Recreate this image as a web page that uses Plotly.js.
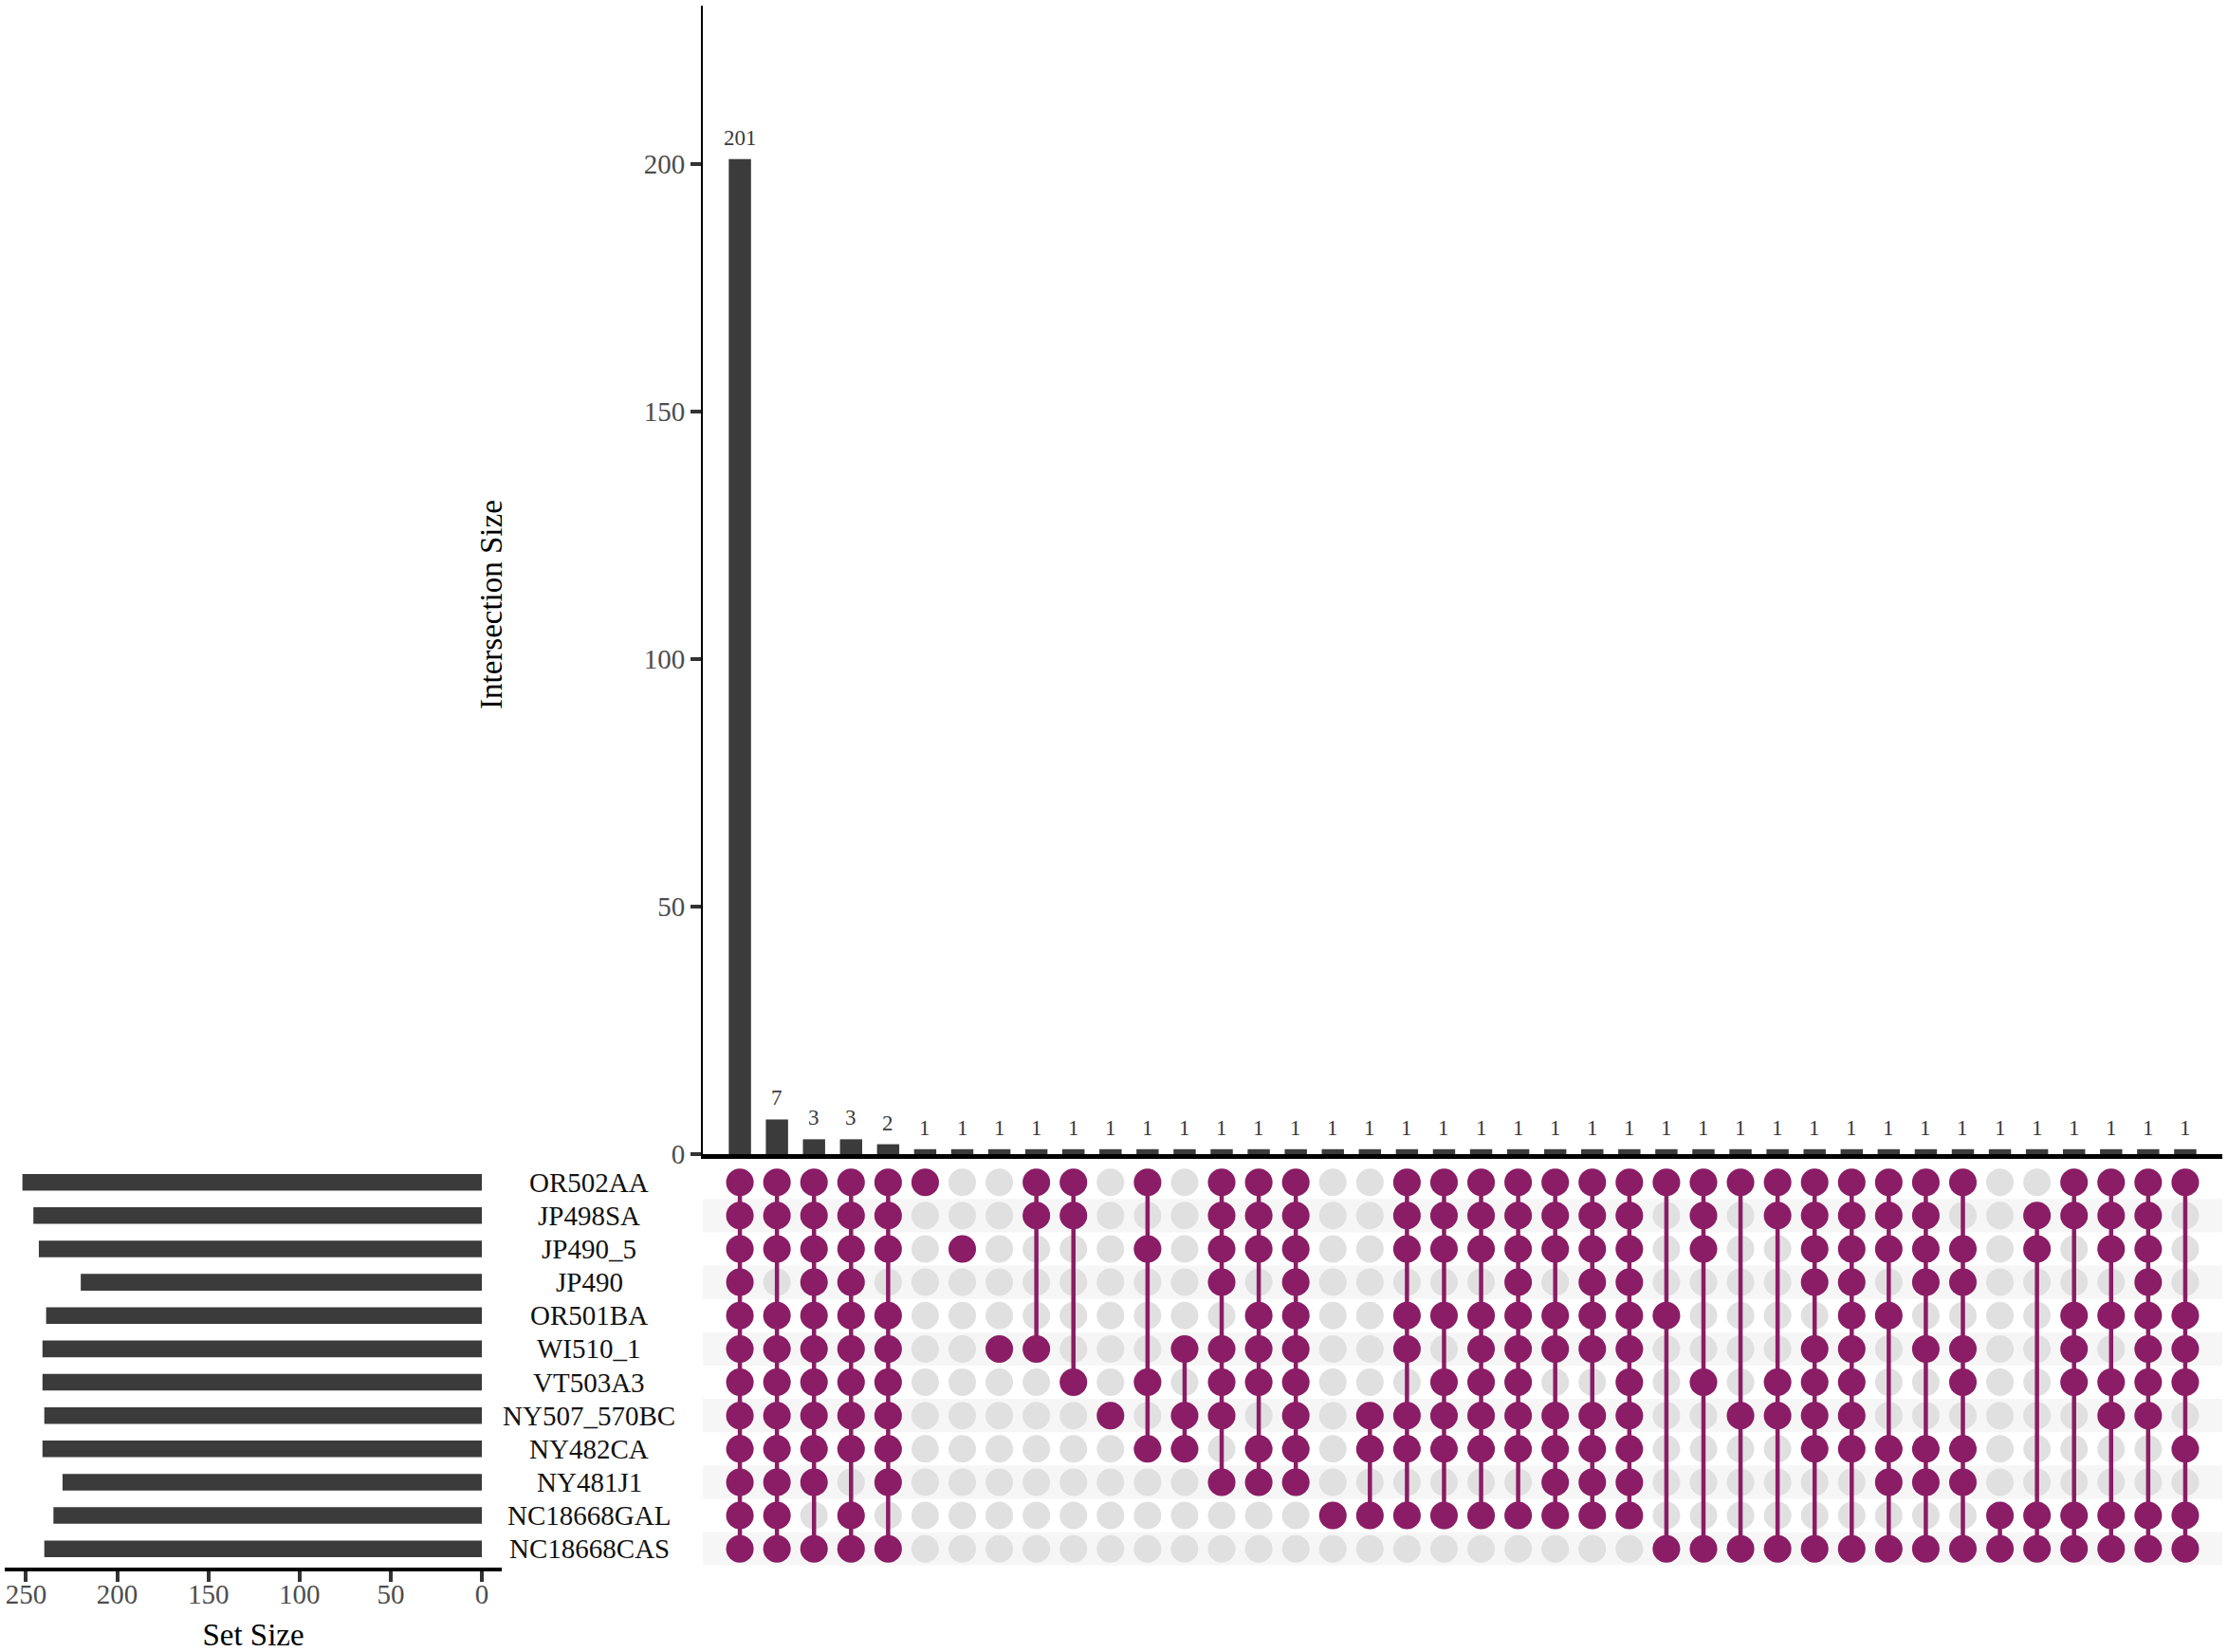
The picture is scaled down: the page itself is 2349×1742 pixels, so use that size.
<!DOCTYPE html>
<html><head><meta charset="utf-8">
<script src="https://cdn.plot.ly/plotly-3.0.1.min.js"></script>
<style>html,body{margin:0;padding:0;background:#fff}#chart{width:2349px;height:1742px}</style>
</head><body><div id="chart"></div>
<script>
// ---------------- DATA ----------------
const sets = ["OR502AA","JP498SA","JP490_5","JP490","OR501BA","WI510_1","VT503A3","NY507_570BC","NY482CA","NY481J1","NC18668GAL","NC18668CAS"];
const setSizes = [252,246,243,220,239,241,241,240,241,230,235,240];
const intersectionSizes = [201,7,3,3,2,1,1,1,1,1,1,1,1,1,1,1,1,1,1,1,1,1,1,1,1,1,1,1,1,1,1,1,1,1,1,1,1,1,1,1];
// members of each intersection (indices into sets)
const intersectionSets = [
  [0,1,2,3,4,5,6,7,8,9,10,11],
  [0,1,2,4,5,6,7,8,9,10,11],
  [0,1,2,3,4,5,6,7,8,9,11],
  [0,1,2,3,4,5,6,7,8,10,11],
  [0,1,2,4,5,6,7,8,9,11],
  [0],
  [2],
  [5],
  [0,1,5],
  [0,1,6],
  [7],
  [0,2,6,8],
  [5,7,8],
  [0,1,2,3,5,6,7,9],
  [0,1,2,4,5,6,8,9],
  [0,1,2,3,4,5,6,7,8,9],
  [10],
  [7,8,10],
  [0,1,2,4,5,7,8,10],
  [0,1,2,4,6,7,8,10],
  [0,1,2,4,5,6,7,8,10],
  [0,1,2,3,4,5,6,7,8,10],
  [0,1,2,4,5,7,8,9,10],
  [0,1,2,3,4,5,7,8,9,10],
  [0,1,2,3,4,5,6,7,8,9,10],
  [0,4,11],
  [0,1,2,6,11],
  [0,7,11],
  [0,1,6,7,11],
  [0,1,2,3,5,6,7,8,11],
  [0,1,2,3,4,5,6,7,8,11],
  [0,1,2,4,8,9,11],
  [0,1,2,3,5,8,9,11],
  [0,2,3,5,6,8,9,11],
  [10,11],
  [1,2,10,11],
  [0,1,4,5,6,10,11],
  [0,1,2,4,6,7,10,11],
  [0,1,2,3,4,5,6,7,10,11],
  [0,4,5,6,8,10,11]
];
const intersectionTicks = [0,50,100,150,200];
const setSizeTicks = [0,50,100,150,200,250];

// ---------------- STYLE ----------------
const W = 2349, H = 1742;
const px = v => v / W;
const py = v => 1 - v / H;
const PURPLE = '#8B1C66', EMPTY = '#E0E0E0', BAR = '#3B3B3B', STRIPE = '#F6F6F6';
const FONT = '"Liberation Serif", "Times New Roman", serif';

const cols = intersectionSizes.map((_, i) => i);
const rows = sets.map((_, i) => i);

// ---------------- TRACES ----------------
const barTrace = {
  type: 'bar', x: cols, y: intersectionSizes, xaxis: 'x', yaxis: 'y',
  marker: {color: BAR}, width: 0.6, hoverinfo: 'y', showlegend: false
};

const emptyX = [], emptyY = [];
const fillX = [], fillY = [];
const lineX = [], lineY = [];
intersectionSets.forEach((members, c) => {
  rows.forEach(r => { emptyX.push(c); emptyY.push(r); });
  members.forEach(r => { fillX.push(c); fillY.push(r); });
  if (members.length > 1) {
    lineX.push(c, c, null);
    lineY.push(Math.min(...members), Math.max(...members), null);
  }
});

const emptyDots = {
  type: 'scatter', mode: 'markers', x: emptyX, y: emptyY, xaxis: 'x2', yaxis: 'y2',
  marker: {color: EMPTY, size: 29}, hoverinfo: 'skip', showlegend: false, cliponaxis: false
};
const connLines = {
  type: 'scatter', mode: 'lines', x: lineX, y: lineY, xaxis: 'x2', yaxis: 'y2',
  line: {color: PURPLE, width: 4.5}, hoverinfo: 'skip', showlegend: false, cliponaxis: false
};
const filledDots = {
  type: 'scatter', mode: 'markers', x: fillX, y: fillY, xaxis: 'x2', yaxis: 'y2',
  marker: {color: PURPLE, size: 29}, hoverinfo: 'skip', showlegend: false, cliponaxis: false
};
const setBars = {
  type: 'bar', orientation: 'h', x: setSizes, y: rows, xaxis: 'x3', yaxis: 'y2',
  marker: {color: BAR}, width: 0.5, hoverinfo: 'x', showlegend: false
};

// ---------------- LAYOUT ----------------
const stripes = rows.filter(r => r % 2 === 1).map(r => ({
  type: 'rect', xref: 'x2', yref: 'y2', x0: -1, x1: 40, y0: r - 0.5, y1: r + 0.5,
  fillcolor: STRIPE, line: {width: 0}, layer: 'below'
}));

const setLabels = sets.map((s, r) => ({
  xref: 'paper', yref: 'y2', x: px(621), y: r, text: s, showarrow: false,
  xanchor: 'center', yanchor: 'middle', font: {family: FONT, size: 29, color: '#111'}
}));
const barLabels = intersectionSizes.map((v, c) => ({
  xref: 'x', yref: 'y', x: c, y: v, text: String(v), showarrow: false,
  xanchor: 'center', yanchor: 'bottom', yshift: 8,
  font: {family: FONT, size: 23, color: '#3B3B3B'}
}));
const yTitle = {
  xref: 'paper', yref: 'paper', x: px(518), y: py(638), text: 'Intersection Size',
  textangle: -90, showarrow: false, xanchor: 'center', yanchor: 'middle',
  font: {family: FONT, size: 33, color: '#000'}
};

const layout = {
  width: W, height: H,
  margin: {l: 0, r: 0, t: 0, b: 0},
  paper_bgcolor: '#fff', plot_bgcolor: 'rgba(0,0,0,0)',
  font: {family: FONT, color: '#000'},
  showlegend: false,
  xaxis: {
    domain: [px(741), px(2343)], range: [-1, 40], anchor: 'y',
    showline: true, linewidth: 4.5, linecolor: '#000', ticks: '',
    showticklabels: false, showgrid: false, zeroline: false, fixedrange: true
  },
  yaxis: {
    domain: [py(1217), py(6)], range: [0, 232], anchor: 'x',
    showline: true, linewidth: 2, linecolor: '#000',
    ticks: 'outside', ticklen: 11, tickwidth: 4, tickcolor: '#333',
    tickvals: intersectionTicks, ticktext: intersectionTicks.map(String),
    tickfont: {family: FONT, size: 29, color: '#4D4D4D'},
    showgrid: false, zeroline: false, fixedrange: true
  },
  xaxis2: {
    domain: [px(741), px(2343)], range: [-1, 40], anchor: 'y2', visible: false, fixedrange: true
  },
  yaxis2: {
    domain: [py(1650.8), py(1229.1)], range: [11.5, -0.5], anchor: 'x2', visible: false, fixedrange: true
  },
  xaxis3: {
    domain: [px(5), px(529)], range: [261.7, -10.9], anchor: 'free', position: py(1655),
    showline: true, linewidth: 4, linecolor: '#000',
    ticks: 'outside', ticklen: 11, tickwidth: 4, tickcolor: '#333',
    tickvals: setSizeTicks, ticktext: setSizeTicks.map(String),
    tickfont: {family: FONT, size: 29, color: '#4D4D4D'},
    ticklabelstandoff: -12,
    showgrid: false, zeroline: false, fixedrange: true,
    title: {text: 'Set Size', font: {family: FONT, size: 33, color: '#000'}, standoff: 22}
  },
  shapes: stripes,
  annotations: setLabels.concat(barLabels, [yTitle])
};

Plotly.newPlot('chart', [barTrace, emptyDots, connLines, filledDots, setBars], layout, {staticPlot: true});
</script>
</body></html>
